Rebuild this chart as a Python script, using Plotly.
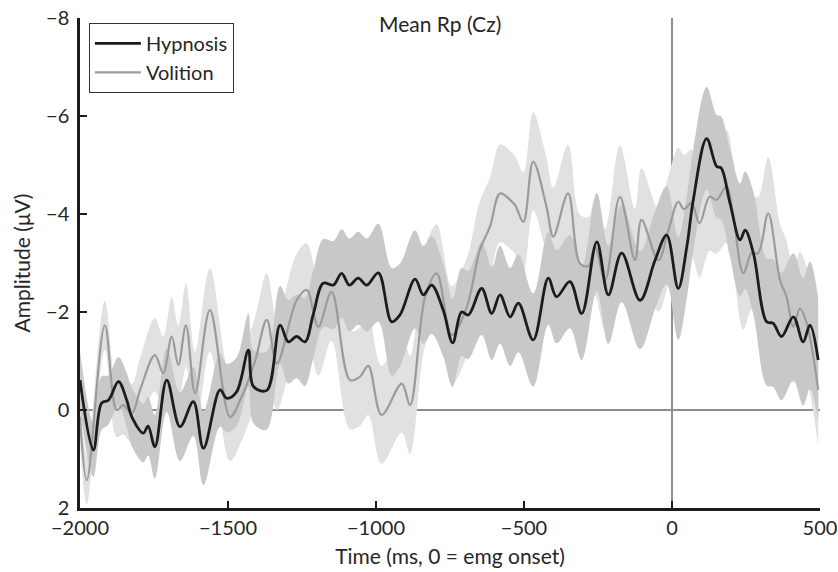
import plotly.graph_objects as go

# ---------------- data ----------------
hyp_t = [-2000, -1955, -1927, -1904, -1870, -1842, -1825, -1786, -1770, -1747,
         -1707, -1662, -1617, -1583, -1527, -1504, -1471, -1431, -1414, -1369,
         -1324, -1296, -1268, -1240, -1212, -1178, -1144, -1116, -1090, -1060,
         -1031, -992, -947, -919, -868, -840, -812, -773, -741, -711,
         -688, -643, -609, -581, -547, -519, -469, -418, -390, -345,
         -305, -254, -215, -170, -108, -57, -18, 21, 50, 72,
         117, 151, 166, 196, 230, 247, 275, 320, 342, 370,
         410, 443, 466, 494]
hyp_v = [-0.61, 0.82, -0.14, -0.2, -0.58, -0.2, 0.14, 0.47, 0.33, 0.75,
         -0.61, 0.34, -0.17, 0.78, -0.41, -0.24, -0.37, -1.22, -0.48, -0.4,
         -1.73, -1.39, -1.5, -1.39, -1.95, -2.59, -2.55, -2.79, -2.55, -2.69,
         -2.55, -2.80, -1.80, -1.94, -2.67, -2.35, -2.55, -2.04, -1.37, -2.0,
         -1.94, -2.48, -1.97, -2.35, -1.90, -2.18, -1.43, -2.69, -2.31, -2.62,
         -1.97, -3.43, -2.35, -3.2, -2.24, -3.06, -3.57, -2.48, -3.33, -4.29,
         -5.54, -4.97, -4.94, -4.22, -3.47, -3.67, -3.2, -1.8, -1.77, -1.5,
         -1.9, -1.39, -1.73, -1.02]
hyp_sem = [0.6, 0.55, 0.55, 0.5, 0.5, 0.55, 0.6, 0.6, 0.6, 0.65,
           0.65, 0.7, 0.7, 0.75, 0.75, 0.7, 0.7, 0.75, 0.75, 0.8,
           0.8, 0.85, 0.85, 0.9, 0.9, 0.9, 0.9, 0.9, 0.95, 0.95,
           0.95, 1.0, 1.1, 1.05, 1.0, 1.0, 1.0, 0.95, 0.9, 0.9,
           0.9, 0.95, 0.95, 1.0, 1.0, 1.0, 0.95, 0.95, 0.95, 0.95,
           0.95, 1.0, 1.0, 1.0, 1.0, 1.0, 1.0, 1.05, 1.05, 1.05,
           1.05, 1.05, 1.05, 1.1, 1.15, 1.2, 1.25, 1.3, 1.3, 1.3,
           1.3, 1.3, 1.3, 1.25]

vol_t = [-2000, -1977, -1916, -1876, -1854, -1825, -1797, -1747, -1719, -1690,
         -1668, -1642, -1611, -1561, -1493, -1454, -1409, -1369, -1335, -1268,
         -1234, -1195, -1150, -1088, -1054, -1026, -981, -913, -885, -834,
         -795, -744, -693, -649, -615, -581, -547, -530, -502, -469,
         -424, -401, -351, -311, -282, -260, -226, -176, -125, -103,
         -46, -12, 21, 40, 66, 93, 127, 150, 184, 207,
         241, 269, 291, 325, 365, 387, 410, 432, 455, 494]
vol_v = [0.14, 1.43, -1.73, 0.0, -0.1, 0.07, -0.41, -1.12, -0.75, -1.5,
         -0.92, -1.73, -0.34, -2.04, 0.14, -0.27, -0.99, -1.84, -0.95, -2.24,
         -2.45, -1.7, -2.41, -0.61, -0.68, -0.9, 0.1, -0.54, -0.1, -2.31,
         -2.79, -1.53, -2.11, -3.27, -3.74, -4.42, -4.29, -4.18, -3.84, -5.07,
         -4.15, -3.54, -4.42, -2.99, -2.94, -3.33, -2.65, -4.35, -3.06, -3.88,
         -3.06, -3.67, -4.25, -4.1, -4.22, -3.81, -4.35, -4.29, -4.56, -3.95,
         -2.79, -3.2, -3.2, -4.01, -2.65, -2.31, -1.7, -2.07, -1.77, -0.41]
vol_sem = [0.5, 0.5, 0.5, 0.55, 0.6, 0.6, 0.65, 0.75, 0.75, 0.8,
           0.8, 0.85, 0.85, 0.85, 0.9, 0.9, 0.9, 0.95, 0.95, 0.95,
           0.95, 1.0, 1.0, 1.0, 1.0, 1.0, 1.0, 1.0, 1.0, 1.0,
           1.0, 1.0, 1.0, 1.0, 1.0, 1.0, 1.0, 1.0, 1.0, 1.0,
           1.0, 1.0, 1.0, 1.0, 1.0, 1.0, 1.05, 1.05, 1.05, 1.05,
           1.05, 1.1, 1.1, 1.1, 1.1, 1.1, 1.1, 1.1, 1.15, 1.15,
           1.15, 1.15, 1.15, 1.15, 1.15, 1.15, 1.15, 1.15, 1.15, 1.15]

x_ticks = [-2000, -1500, -1000, -500, 0, 500]
y_ticks = [-8, -6, -4, -2, 0, 2]

FONT = "Lato, 'Open Sans', sans-serif"
TXT = "#262626"
DARK_LINE = "#1c1c1c"
GRAY_LINE = "#9b9b9b"
DARK_BAND = "#c8c8ca"
LIGHT_BAND = "#e1e1e3"

fig = go.Figure()

def band(t, v, s, color):
    up = [a - b for a, b in zip(v, s)]
    lo = [a + b for a, b in zip(v, s)]
    fig.add_trace(go.Scatter(x=t, y=up, mode="lines", line=dict(width=0, shape="spline"),
                             showlegend=False, hoverinfo="skip"))
    fig.add_trace(go.Scatter(x=t, y=lo, mode="lines", line=dict(width=0, shape="spline"),
                             fill="tonexty", fillcolor=color, showlegend=False, hoverinfo="skip"))

band(vol_t, vol_v, vol_sem, LIGHT_BAND)
band(hyp_t, hyp_v, hyp_sem, DARK_BAND)

fig.add_trace(go.Scatter(x=vol_t, y=vol_v, mode="lines", name="Volition",
                         line=dict(color=GRAY_LINE, width=2.2, shape="spline")))
fig.add_trace(go.Scatter(x=hyp_t, y=hyp_v, mode="lines", name="Hypnosis",
                         line=dict(color=DARK_LINE, width=2.8, shape="spline")))

# reference lines under the bands
fig.add_shape(type="line", x0=-2000, x1=500, y0=0, y1=0, xref="x", yref="y",
              line=dict(color="#8e8e8e", width=2), layer="below")
fig.add_shape(type="line", x0=0, x1=0, y0=-8, y1=2, xref="x", yref="y",
              line=dict(color="#8e8e8e", width=2), layer="below")

fig.add_annotation(text="Mean Rp (Cz)", x=-784, y=1, xref="x", yref="paper",
                   xanchor="center", yanchor="middle", yshift=-5, showarrow=False,
                   font=dict(family=FONT, size=21, color=TXT))

fig.update_layout(
    width=838, height=572,
    margin=dict(l=80, r=18, t=18, b=64),
    paper_bgcolor="white", plot_bgcolor="white",
    font=dict(family=FONT, size=20, color=TXT),
    legend=dict(x=0.012, y=0.99, xanchor="left", yanchor="top",
                bgcolor="white", bordercolor="#333", borderwidth=1,
                font=dict(family=FONT, size=20, color=TXT),
                traceorder="reversed", tracegroupgap=0, itemwidth=46),
    xaxis=dict(range=[-2000, 500], tickvals=x_ticks, ticks="inside", ticklen=7,
               tickwidth=2, tickcolor="#1c1c1c", showline=True, linecolor="#1c1c1c",
               linewidth=2.5, showgrid=False, zeroline=False, automargin=False,
               tickfont=dict(size=20), ticklabeloverflow="allow",
               title=dict(text="Time (ms, 0 = emg onset)", font=dict(size=21), standoff=12)),
    yaxis=dict(range=[2, -8], tickvals=y_ticks, ticks="inside", ticklen=7,
               tickwidth=2, tickcolor="#1c1c1c", showline=True, linecolor="#1c1c1c",
               linewidth=2.5, showgrid=False, zeroline=False, automargin=False,
               tickfont=dict(size=20), ticklabelstandoff=4, ticklabeloverflow="allow",
               title=dict(text="Amplitude (μV)", font=dict(size=21), standoff=10)),
)

# remove the default 8px page margin so the figure fills the window exactly
fig.write_html("out.html", config={"displayModeBar": False},
               post_script="document.body.style.margin='0';document.body.style.overflow='hidden';")
